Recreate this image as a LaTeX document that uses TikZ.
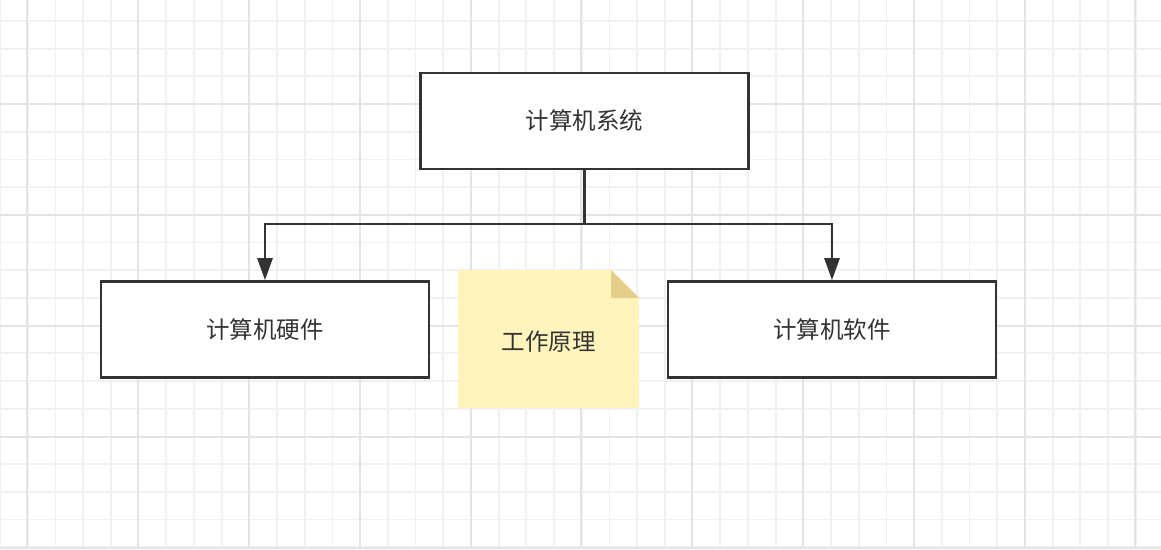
\documentclass[tikz,border=0pt]{standalone}
\usepackage{fontspec}
\newfontfamily\cjk{Noto Sans CJK SC}
\usetikzlibrary{arrows.meta}
\definecolor{minorgrid}{HTML}{F1F1F1}
\definecolor{majorgrid}{HTML}{E4E4E4}
\definecolor{ink}{HTML}{333333}
\definecolor{notefill}{HTML}{FFF4BB}
\definecolor{notefold}{HTML}{E3CF8A}
\tikzset{
  box/.style={draw=ink, line width=2.6pt, fill=white, minimum width=328pt, minimum height=96pt, inner sep=0pt, font=\cjk\fontsize{23.5}{28}\selectfont, text=ink},
  conn/.style={draw=ink, line width=2.6pt, -{Triangle[length=22pt,width=15pt]}},
  notetext/.style={font=\cjk\fontsize{23.5}{28}\selectfont, text=ink}
}
\begin{document}
\begin{tikzpicture}[x=1pt,y=-1pt]
\useasboundingbox (0,0) rectangle (1161,549);
\fill[white] (0,0) rectangle (1161,549);
% minor grid
\foreach \i in {0,...,42} {
  \draw[minorgrid, line width=1.8pt] ({\i*27.7},0) -- ({\i*27.7},549);
}
\foreach \j in {0,...,20} {
  \draw[minorgrid, line width=1.8pt] (0,{-6.8+\j*27.7}) -- (1161,{-6.8+\j*27.7});
}
% major grid
\foreach \i in {0,...,10} {
  \draw[majorgrid, line width=2pt] ({27.3+\i*110.8},0) -- ({27.3+\i*110.8},549);
}
\foreach \j in {0,...,4} {
  \draw[majorgrid, line width=2pt] (0,{104+\j*110.9}) -- (1161,{104+\j*110.9});
}
% nodes
\node[box] (sys) at (584.5,121) {\raisebox{-2pt}{计算机系统}};
\node[box] (hw) at (265,329.5) {\raisebox{-1pt}{计算机硬件}};
\node[box] (sw) at (832,329.5) {\raisebox{-1pt}{计算机软件}};
% note
\fill[notefill] (458,270) -- (611,270) -- (639,298) -- (639,408) -- (458,408) -- cycle;
\fill[notefold] (611,270) -- (639,298) -- (611,298) -- cycle;
\node[notetext] (note) at (548.5,342) {工作原理};
% connectors
\coordinate (mid) at (584.5,224);
\draw[conn] (sys.south) -- (mid) -| (hw.north);
\draw[conn] (mid) -| (sw.north);
\end{tikzpicture}
\end{document}
